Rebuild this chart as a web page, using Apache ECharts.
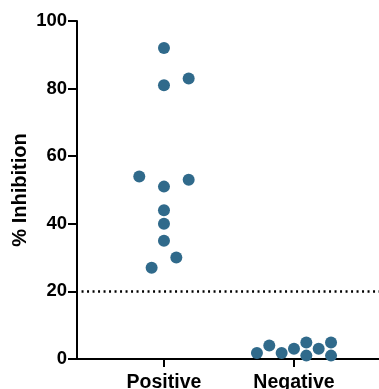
<!DOCTYPE html>
<html>
<head>
<meta charset="utf-8">
<script src="https://cdn.jsdelivr.net/npm/echarts@6/dist/echarts.min.js"></script>
<style>html,body{margin:0;padding:0;background:#fff;}#c{width:379px;height:389px;}</style>
</head>
<body>
<div id="c"></div>
<script>
const categories = ['Positive', 'Negative'];
const positiveValues = [92, 83, 81, 54, 53, 51, 44, 40, 35, 30, 27];
const positiveOffsets = [0, 0.19, 0, -0.19, 0.19, 0, 0, 0, 0, 0.095, -0.095];
const negativeValues = [1.8, 4, 1.8, 3, 4.9, 1, 3, 4.9, 1];
const negativeOffsets = [-0.285, -0.19, -0.095, 0, 0.095, 0.095, 0.19, 0.285, 0.285];
const yTicks = [0, 20, 40, 60, 80, 100];
const threshold = 20;

const xMin = 0.331, xMax = 2.654;
const font = '"Liberation Sans", Arial, Helvetica, sans-serif';
const dotColor = '#306a8b';

const posData = positiveValues.map((v, i) => [1 + positiveOffsets[i], v]);
const negData = negativeValues.map((v, i) => [2 + negativeOffsets[i], v]);

const chart = echarts.init(document.getElementById('c'));
chart.setOption({
  animation: false,
  grid: { left: 77, right: 0, top: 21, bottom: 30, containLabel: false, outerBoundsMode: 'none' },
  xAxis: {
    type: 'value', min: xMin, max: xMax,
    splitLine: { show: false },
    axisLine: { show: true, lineStyle: { color: '#000', width: 2 } },
    axisTick: { show: true, customValues: [1, 2], length: 8, lineStyle: { color: '#000', width: 2 } },
    axisLabel: {
      customValues: [1, 2], formatter: v => categories[Math.round(v) - 1] || '',
      color: '#000', fontFamily: font, fontWeight: 'bold', fontSize: 19.5, margin: 14
    }
  },
  yAxis: {
    type: 'value', min: yTicks[0], max: yTicks[yTicks.length - 1], interval: 20,
    name: '% Inhibition', nameLocation: 'middle', nameGap: 47, nameMoveOverlap: false,
    nameTextStyle: { color: '#000', fontFamily: font, fontWeight: 'bold', fontSize: 20 },
    splitLine: { show: false },
    axisLine: { show: true, lineStyle: { color: '#000', width: 2 } },
    axisTick: { show: true, length: 9, lineStyle: { color: '#000', width: 2 } },
    axisLabel: { color: '#000', fontFamily: font, fontWeight: 'bold', fontSize: 18.5, margin: 10 }
  },
  series: [
    {
      type: 'scatter', data: posData, symbolSize: 12,
      itemStyle: { color: dotColor, opacity: 1 },
      markLine: {
        silent: true, symbol: 'none', label: { show: false },
        lineStyle: { color: '#000', width: 2.5, type: [2, 3.5] },
        data: [[{ coord: [xMin + 0.035, threshold] }, { coord: [xMax, threshold] }]]
      }
    },
    {
      type: 'scatter', data: negData, symbolSize: 12,
      itemStyle: { color: dotColor, opacity: 1 }
    }
  ]
});
</script>
</body>
</html>
